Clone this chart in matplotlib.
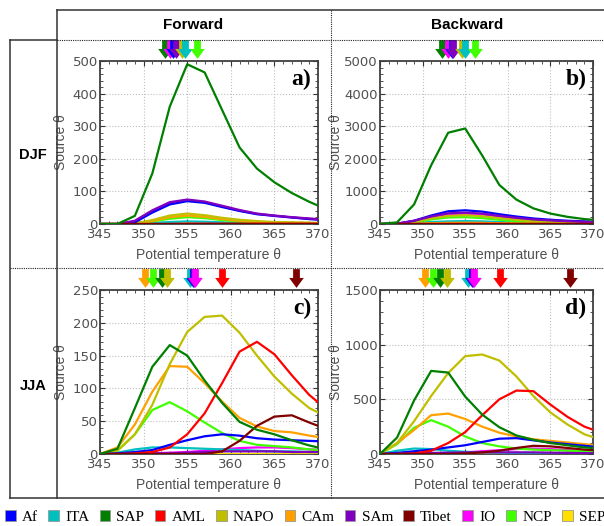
import matplotlib
matplotlib.use("Agg")
import matplotlib.pyplot as plt
import matplotlib.transforms as mtransforms
from matplotlib.lines import Line2D
from matplotlib.patches import Patch
from matplotlib.path import Path
from matplotlib.ticker import MultipleLocator

# potential temperature levels (K)
theta = [345, 347, 349, 351, 353, 355, 357, 359, 361, 363, 365, 367, 369, 371]

regions = ["Af", "ITA", "SAP", "AML", "NAPO", "CAm", "SAm", "Tibet", "IO", "NCP", "SEP"]
colors = {
    "Af": "#0000ff", "ITA": "#00c0c0", "SAP": "#007f00", "AML": "#ff0000",
    "NAPO": "#bfbf00", "CAm": "#ffa000", "SAm": "#7f00bf", "Tibet": "#800000",
    "IO": "#ff00ff", "NCP": "#40ff00", "SEP": "#ffe000",
}
# order in which the curves are drawn (last on top)
draw_order = ["SEP", "IO", "ITA", "NCP", "CAm", "NAPO", "Af", "SAm", "AML", "Tibet", "SAP"]

# a) forward DJF
fwd_djf = {
    "Af":    [0, 0, 5, 35, 60, 70, 65, 52, 40, 30, 25, 20, 15, 12],
    "ITA":   [0, 0, 1, 3, 6, 8, 7, 5, 4, 3, 2, 2, 1, 1],
    "SAP":   [0, 0, 25, 155, 360, 490, 465, 350, 235, 170, 128, 95, 68, 45],
    "AML":   [0, 0, 0, 0, 0, 1, 1, 1, 1, 1, 1, 1, 1, 1],
    "NAPO":  [0, 0, 2, 12, 26, 32, 27, 19, 13, 9, 6, 5, 4, 3],
    "CAm":   [0, 0, 2, 9, 21, 26, 22, 15, 10, 7, 5, 4, 3, 2],
    "SAm":   [0, 0, 10, 42, 67, 75, 69, 56, 43, 32, 26, 21, 17, 13],
    "Tibet": [0, 0, 0, 0, 0, 0, 0, 0, 0, 0, 0, 0, 0, 0],
    "IO":    [0, 0, 8, 39, 64, 73, 67, 54, 41, 31, 25, 20, 16, 12],
    "NCP":   [0, 0, 2, 8, 16, 21, 18, 12, 8, 5, 4, 3, 2, 2],
    "SEP":   [0, 0, 0, 0, 1, 1, 1, 1, 0, 0, 0, 0, 0, 0],
}

# b) backward DJF
bwd_djf = {
    "Af":    [0, 10, 100, 260, 390, 420, 380, 300, 230, 170, 130, 100, 80, 60],
    "ITA":   [0, 3, 30, 60, 80, 90, 80, 60, 45, 35, 25, 20, 15, 10],
    "SAP":   [0, 50, 600, 1800, 2800, 2930, 2100, 1200, 750, 480, 320, 220, 150, 110],
    "AML":   [0, 0, 0, 1, 2, 3, 3, 3, 2, 2, 2, 1, 1, 1],
    "NAPO":  [0, 5, 70, 170, 250, 270, 240, 180, 130, 90, 70, 55, 40, 30],
    "CAm":   [0, 2, 10, 25, 35, 40, 35, 25, 20, 15, 10, 8, 6, 5],
    "SAm":   [0, 10, 100, 230, 330, 350, 320, 250, 190, 140, 110, 85, 65, 50],
    "Tibet": [0, 0, 0, 0, 0, 0, 0, 0, 0, 0, 0, 0, 0, 0],
    "IO":    [0, 8, 90, 210, 300, 320, 290, 230, 170, 125, 100, 75, 60, 45],
    "NCP":   [0, 5, 60, 140, 200, 210, 180, 130, 90, 60, 45, 35, 25, 20],
    "SEP":   [0, 0, 2, 4, 6, 7, 6, 5, 4, 3, 2, 2, 1, 1],
}

# c) forward JJA
fwd_jja = {
    "Af":    [0, 1, 3, 6, 14, 21, 27, 30, 28, 24, 22, 21, 20, 19],
    "ITA":   [0, 2, 7, 10, 10, 9, 8, 7, 6, 5, 4, 4, 3, 3],
    "SAP":   [0, 8, 70, 133, 166, 150, 112, 78, 49, 37, 30, 21, 13, 7],
    "AML":   [0, 0, 1, 3, 10, 30, 62, 108, 156, 171, 152, 120, 90, 68],
    "NAPO":  [0, 5, 30, 75, 137, 186, 209, 211, 185, 150, 118, 92, 70, 57],
    "CAm":   [0, 10, 45, 95, 134, 133, 108, 80, 55, 42, 35, 33, 28, 24],
    "SAm":   [0, 0, 0, 1, 1, 2, 3, 4, 4, 4, 4, 3, 3, 3],
    "Tibet": [0, 0, 0, 0, 0, 0, 0, 4, 20, 43, 57, 59, 48, 38],
    "IO":    [0, 0, 0, 1, 2, 3, 5, 7, 9, 10, 10, 9, 7, 6],
    "NCP":   [0, 5, 30, 67, 79, 65, 48, 32, 20, 14, 12, 10, 7, 5],
    "SEP":   [0, 0, 0, 0, 0, 0, 0, 0, 0, 0, 0, 0, 0, 0],
}

# d) backward JJA
bwd_jja = {
    "Af":    [0, 10, 25, 40, 60, 80, 110, 140, 145, 125, 105, 90, 75, 60],
    "ITA":   [0, 30, 50, 45, 30, 20, 15, 12, 10, 8, 7, 6, 5, 5],
    "SAP":   [0, 150, 490, 760, 745, 525, 360, 245, 170, 130, 100, 80, 60, 50],
    "AML":   [0, 0, 5, 30, 100, 200, 355, 500, 580, 575, 452, 340, 250, 195],
    "NAPO":  [0, 100, 300, 530, 740, 895, 910, 855, 710, 530, 380, 270, 180, 130],
    "CAm":   [0, 100, 220, 355, 370, 320, 250, 195, 160, 135, 120, 105, 90, 75],
    "SAm":   [0, 2, 5, 10, 12, 15, 15, 15, 15, 15, 12, 10, 8, 6],
    "Tibet": [0, 0, 0, 0, 0, 5, 15, 30, 55, 75, 70, 55, 40, 30],
    "IO":    [0, 0, 2, 5, 10, 15, 25, 35, 45, 50, 45, 35, 25, 20],
    "NCP":   [0, 90, 240, 310, 250, 160, 100, 70, 50, 40, 35, 30, 25, 20],
    "SEP":   [0, 0, 0, 0, 0, 0, 0, 0, 0, 0, 0, 0, 0, 0],
}

# mean source theta per region (arrows above each panel)
arr_fwd_djf = {"SAP": 352.45, "IO": 353.0, "Af": 353.4, "SAm": 353.7,
               "NAPO": 354.4, "ITA": 354.75, "NCP": 356.1}
arr_bwd_djf = {"SAP": 352.3, "IO": 353.0, "Af": 353.5, "SAm": 353.6,
               "NAPO": 354.6, "ITA": 355.0, "NCP": 356.2}
arr_fwd_jja = {"CAm": 350.2, "NCP": 351.1, "SAP": 352.1, "NAPO": 352.7,
               "ITA": 355.3, "Af": 355.7, "SAm": 355.8, "IO": 355.9,
               "AML": 359.0, "Tibet": 367.5}
arr_bwd_jja = {"CAm": 350.3, "NCP": 351.2, "SAP": 352.0, "NAPO": 352.9,
               "ITA": 355.3, "Af": 355.8, "SAm": 355.9, "IO": 356.0,
               "AML": 359.1, "Tibet": 367.3}

W, H = 604, 526
fig = plt.figure(figsize=(W / 100, H / 100), dpi=100)

GREY = "#505050"
SANS = "Liberation Sans"

# down-arrow marker
arrow = Path([(-0.18, 0.5), (0.18, 0.5), (0.18, 0.03), (0.39, 0.03),
              (0.0, -0.5), (-0.39, 0.03), (-0.18, 0.03), (-0.18, 0.5)],
             [Path.MOVETO] + [Path.LINETO] * 6 + [Path.CLOSEPOLY])


def px_axes(left, top, right, bottom):
    return fig.add_axes([left / W, 1 - bottom / H, (right - left) / W, (bottom - top) / H])


panels = [
    (px_axes(100, 61, 318, 224), fwd_djf, arr_fwd_djf, 500, 100, "a)", -32 / 218),
    (px_axes(380, 61, 593, 224), bwd_djf, arr_bwd_djf, 5000, 1000, "b)", -37 / 213),
    (px_axes(100, 290, 318, 454), fwd_jja, arr_fwd_jja, 250, 50, "c)", -32 / 218),
    (px_axes(380, 290, 593, 454), bwd_jja, arr_bwd_jja, 1500, 500, "d)", -37 / 213),
]

for ax, data, arrows, ymax, ystep, tag, ylab_x in panels:
    for r in draw_order:
        ax.plot(theta, data[r], color=colors[r], lw=1.6, zorder=3)
    ax.set_xlim(345, 370)
    ax.set_ylim(0, ymax)
    ax.xaxis.set_major_locator(MultipleLocator(5))
    ax.xaxis.set_minor_locator(MultipleLocator(1))
    ax.yaxis.set_major_locator(MultipleLocator(ystep))
    ax.yaxis.set_minor_locator(MultipleLocator(ystep / 5))
    ax.grid(True, which="major", ls=":", color="#c0c0c0", lw=0.8)
    ax.tick_params(which="both", direction="in", top=True, right=True,
                   colors="#333333", labelcolor=GREY, labelsize=9.5)
    ax.tick_params(axis="x", pad=3)
    ax.tick_params(axis="y", pad=1.5)
    ax.tick_params(which="major", length=3.5, width=0.8)
    ax.tick_params(which="minor", length=2, width=0.6)
    for s in ax.spines.values():
        s.set_color("#404040")
        s.set_linewidth(1.3)
    ax.set_xlabel("Potential temperature θ", color=GREY, fontsize=10, family=SANS)
    ax.set_ylabel("Source θ", color=GREY, fontsize=10, family=SANS)
    ax.xaxis.set_label_coords(0.5, -0.145)
    ax.yaxis.set_label_coords(ylab_x, 0.5)
    ax.text(0.97, 0.95, tag, transform=ax.transAxes, ha="right", va="top",
            fontsize=17, fontweight="bold", family="Liberation Serif", zorder=5)
    trans = mtransforms.blended_transform_factory(ax.transData, ax.transAxes)
    for r, th in arrows.items():
        ax.plot([th], [1.074], marker=arrow, markersize=13.5, color=colors[r],
                markeredgewidth=0, transform=trans, clip_on=False, linestyle="none")


def fline(x0, y0, x1, y1, **kw):
    fig.add_artist(Line2D([x0 / W, x1 / W], [1 - y0 / H, 1 - y1 / H], **kw))


solid = dict(color="#333333", lw=1.1)
dotted = dict(color="#222222", lw=0.8, ls=(0, (1, 1)))
fline(57, 10, 604, 10, **solid)
fline(57, 10, 57, 498, **solid)
fline(10, 40, 57, 40, **solid)
fline(10, 40, 10, 498, **solid)
fline(10, 498, 604, 498, **solid)
fline(57, 40, 604, 40, **dotted)
fline(331, 10, 331, 498, **dotted)
fline(10, 268, 604, 268, **dotted)

fig.text(193 / W, 1 - 25 / H, "Forward", ha="center", va="center",
         fontsize=11, fontweight="bold", family=SANS)
fig.text(467 / W, 1 - 25 / H, "Backward", ha="center", va="center",
         fontsize=11, fontweight="bold", family=SANS)
fig.text(33 / W, 1 - 155 / H, "DJF", ha="center", va="center",
         fontsize=10.5, fontweight="bold", family=SANS)
fig.text(33 / W, 1 - 386 / H, "JJA", ha="center", va="center",
         fontsize=10.5, fontweight="bold", family=SANS)

handles = [Patch(facecolor=colors[r], edgecolor="#999999", lw=0.6) for r in regions]
fig.legend(handles, regions, loc="center left", bbox_to_anchor=(5 / W, 1 - 517 / H),
           ncol=len(regions), frameon=False, prop={"family": "Liberation Serif", "size": 11},
           handlelength=0.7, handleheight=0.7, handletextpad=0.4,
           columnspacing=0.68, borderpad=0, borderaxespad=0)

fig.savefig("out.png", dpi=100)
